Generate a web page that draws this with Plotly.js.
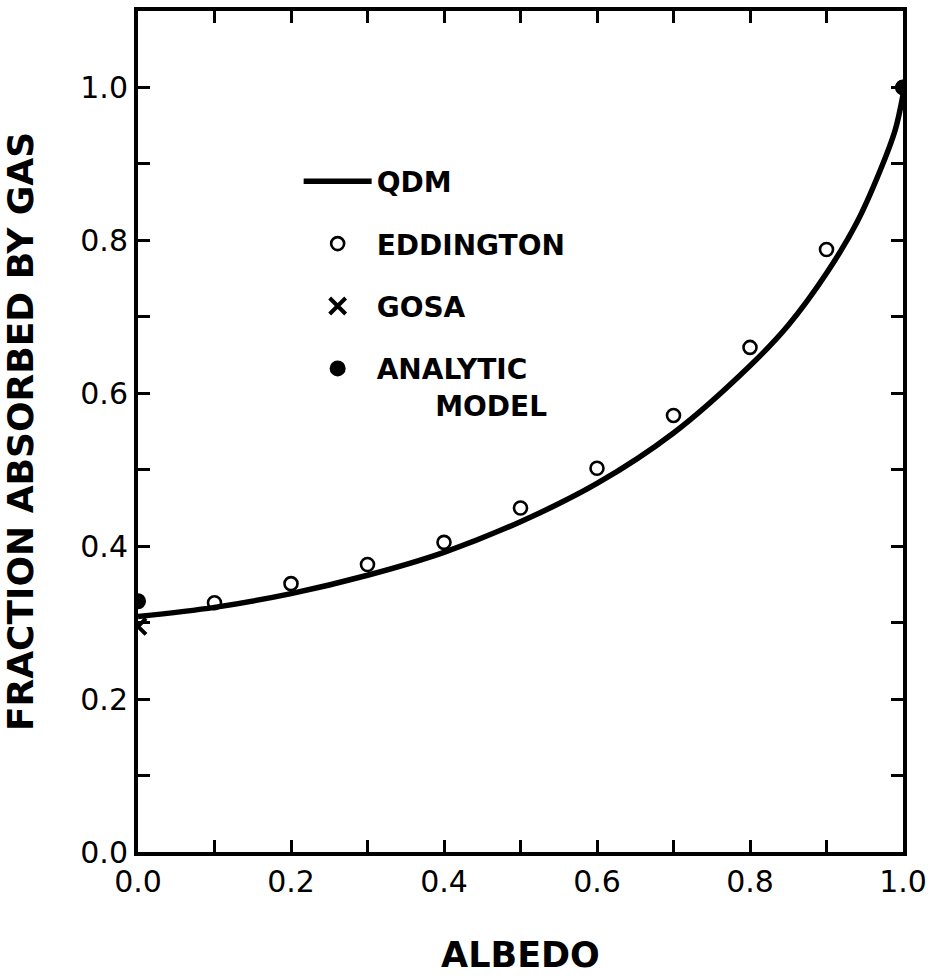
<!DOCTYPE html>
<html>
<head>
<meta charset="utf-8">
<script src="https://cdn.plot.ly/plotly-3.0.1.min.js"></script>
<style>html,body{margin:0;padding:0;background:#fff;}#chart{width:933px;height:976px;}</style>
</head>
<body>
<div id="chart"></div>
<script>
// QDM curve
const qdmX = [0.0, 0.1, 0.2, 0.3, 0.4, 0.5, 0.6, 0.7, 0.8, 0.85, 0.9, 0.94, 0.97, 0.99, 1.0];
const qdmY = [0.308, 0.320, 0.338, 0.362, 0.392, 0.432, 0.482, 0.548, 0.636, 0.689, 0.757, 0.824, 0.891, 0.945, 0.99];
// Eddington points
const eddX = [0.1, 0.2, 0.3, 0.4, 0.5, 0.6, 0.7, 0.8, 0.9, 1.0];
const eddY = [0.326, 0.351, 0.376, 0.405, 0.450, 0.502, 0.571, 0.660, 0.788, 1.0];
// GOSA
const gosaX = [0.0];
const gosaY = [0.295];
// Analytic model
const anaX = [0.0, 1.0];
const anaY = [0.328, 1.0];
// ticks
const xTickVals = [0, 0.1, 0.2, 0.3, 0.4, 0.5, 0.6, 0.7, 0.8, 0.9, 1.0];
const xTickText = ['0.0', '', '0.2', '', '0.4', '', '0.6', '', '0.8', '', '1.0'];
const yTickVals = [0, 0.1, 0.2, 0.3, 0.4, 0.5, 0.6, 0.7, 0.8, 0.9, 1.0];
const yTickText = ['0.0', '', '0.2', '', '0.4', '', '0.6', '', '0.8', '', '1.0'];

const FONT = 'DejaVu Sans, Verdana, sans-serif';

const traces = [
  {x: qdmX, y: qdmY, mode: 'lines', name: 'QDM', legendgroup: 'a',
   line: {color: '#000', width: 5.5, shape: 'spline', smoothing: 0.9}},
  {x: eddX, y: eddY, mode: 'markers', name: 'EDDINGTON', legendgroup: 'b',
   marker: {symbol: 'circle-open', size: 13, color: '#000', line: {width: 2.6, color: '#000'}}},
  {x: gosaX, y: gosaY, mode: 'markers', name: 'GOSA', legendgroup: 'c',
   marker: {symbol: 'x-thin-open', size: 16, color: '#000', line: {width: 4, color: '#000'}}},
  {x: anaX, y: anaY, mode: 'markers', name: 'ANALYTIC<br>      MODEL', legendgroup: 'd',
   marker: {symbol: 'circle', size: 16, color: '#000'}}
];

const axisCommon = {
  showline: true, linewidth: 4, linecolor: '#000', mirror: 'ticks',
  ticks: 'inside', ticklen: 12, tickwidth: 3, tickcolor: '#000',
  showgrid: false, zeroline: false, tickmode: 'array',
  tickfont: {family: FONT, size: 30, color: '#000'}
};

const layout = {
  width: 933, height: 976,
  paper_bgcolor: '#fff', plot_bgcolor: '#fff',
  margin: {l: 138, r: 30, t: 11, b: 124},
  showlegend: true,
  legend: {
    x: 0.21, y: 0.827, xanchor: 'left', yanchor: 'top',
    bgcolor: 'rgba(0,0,0,0)', borderwidth: 0,
    font: {family: FONT, size: 28, color: '#000', weight: 'bold'},
    traceorder: 'grouped', tracegroupgap: 23, valign: 'top', itemwidth: 68
  },
  xaxis: Object.assign({}, axisCommon, {
    range: [0, 1.0], tickvals: xTickVals, ticktext: xTickText,
    title: {text: 'ALBEDO', font: {family: FONT, size: 35, color: '#000', weight: 'bold'}, standoff: 45}
  }),
  yaxis: Object.assign({}, axisCommon, {
    range: [0, 1.1], tickvals: yTickVals, ticktext: yTickText,
    title: {text: 'FRACTION ABSORBED BY GAS', font: {family: FONT, size: 36, color: '#000', weight: 'bold'}, standoff: 40}
  })
};

Plotly.newPlot('chart', traces, layout, {displayModeBar: false, staticPlot: true});
</script>
</body>
</html>
